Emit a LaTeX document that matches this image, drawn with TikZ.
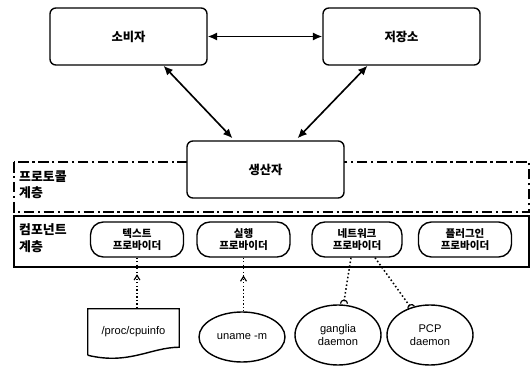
\documentclass[tikz,border=0pt]{standalone}
\usepackage{fontspec}
\setmainfont{Noto Sans CJK KR}
\newfontfamily\latfont{Liberation Sans}
\usetikzlibrary{calc,shapes.geometric,arrows.meta,decorations.markings}

\tikzset{
  roleBox/.style={draw, line width=1.2pt, rounded corners=5pt, fill=white,
    minimum width=157*0.3mm, minimum height=57*0.3mm,
    font=\fontsize{10.5}{12}\selectfont\bfseries},
  provBox/.style={draw, line width=1.2pt, rounded corners=11pt, fill=white,
    minimum width=93*0.3mm, minimum height=35*0.3mm, align=center,
    font=\fontsize{9}{10.5}\selectfont\bfseries},
  srcEll/.style={draw, ellipse, line width=1.2pt, fill=white,
    minimum width=86*0.3mm, minimum height=60*0.3mm, align=center,
    font=\fontsize{9.5}{11}\selectfont\latfont},
  layerLbl/.style={anchor=west, align=left, inner sep=0pt,
    font=\fontsize{11}{14}\selectfont\bfseries},
  biArrow/.style={line width=1.4pt, {Latex[length=8pt,width=7pt]}-{Latex[length=8pt,width=7pt]}},
  useLink/.style={dotted, line width=1pt,
    postaction={decorate, decoration={markings,
      mark=at position 0.45 with {\arrow{Straight Barb[length=4pt,width=5pt,reversed]}}}}},
  plugLink/.style={dotted, line width=1.3pt}
}

\begin{document}
\begin{tikzpicture}[x=0.03cm, y=-0.03cm]
  \useasboundingbox (0,0) rectangle (532,370);

  % layers
  \draw[line width=1.1pt, dash pattern=on 9pt off 3pt on 2pt off 3pt] (14,162) rectangle (529,212);
  \draw[line width=1.6pt] (14,216) rectangle (529,267);
  \node[layerLbl] (protoLbl) at (19,185) {프로토콜\\계층};
  \node[layerLbl] (compLbl) at (19,238) {컴포넌트\\계층};

  % roles
  \node[roleBox] (cons) at (128.5,36.5) {소비자};
  \node[roleBox] (store) at (401.5,36.5) {저장소};
  \node[roleBox] (prod) at (265.5,169.5) {생산자};

  \draw[biArrow] (cons.east) -- (store.west);
  \draw[biArrow] ($(cons.south)+(35,0)$) -- ($(prod.north)+(-33,-2)$);
  \draw[biArrow] ($(store.south)+(-34,0)$) -- ($(prod.north)+(32,-2)$);

  % providers
  \node[provBox] (textProv) at (137,239.5) {텍스트\\프로바이더};
  \node[provBox] (execProv) at (243.5,239.5) {실행\\프로바이더};
  \node[provBox, minimum width=90*0.3mm] (netProv) at (357,239.5) {네트워크\\프로바이더};
  \node[provBox] (plugProv) at (465,239.5) {플러그인\\프로바이더};

  % sources
  \node[minimum width=91*0.3mm, minimum height=46*0.3mm,
    font=\fontsize{9.5}{11}\selectfont\latfont] (cpuinfo) at (133.5,332) {/proc/cpuinfo};
  \draw[line width=1.2pt] (cpuinfo.south west) -- (cpuinfo.north west) -- (cpuinfo.north east)
    -- ($(cpuinfo.south east)+(0,-8)$)
    .. controls ($(cpuinfo.south east)+(-28,-8)$) and ($(cpuinfo.south)+(-5,10)$) .. (cpuinfo.south west);
  \node[srcEll, minimum height=50*0.3mm] (uname) at (242,337) {uname -m};
  \node[srcEll] (ganglia) at (338,335) {ganglia\\daemon};
  \node[srcEll] (pcp) at (430,335) {PCP\\daemon};

  \draw[useLink] (textProv.south) -- (cpuinfo.north -| textProv.south);
  \draw[useLink] (execProv.south) -- (uname.north -| execProv.south);

  \coordinate (gBall) at ($(ganglia.north)+(6,-3)$);
  \coordinate (pBall) at (pcp.125);
  \draw[plugLink] ($(netProv.south)+(-6,0)$) -- (gBall);
  \draw[plugLink] ($(netProv.south)+(18,0)$) -- (pBall);
  \draw[line width=1pt] (gBall) ++(-3pt,-2pt) arc[start angle=180, end angle=0, radius=3pt];
  \draw[line width=1pt] (pBall) ++(-2pt,-2pt) arc[start angle=210, end angle=30, radius=3pt];
\end{tikzpicture}
\end{document}
